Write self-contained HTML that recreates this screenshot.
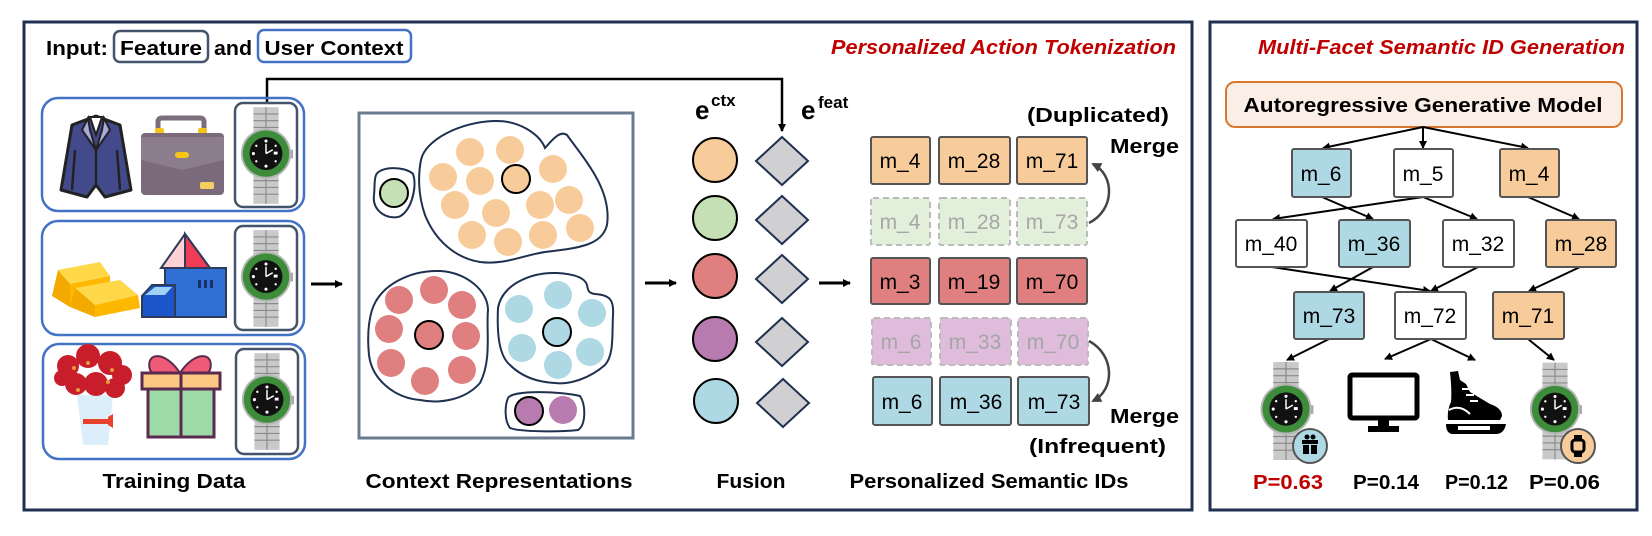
<!DOCTYPE html>
<html><head><meta charset="utf-8"><style>
html,body{margin:0;padding:0;background:#fff;}
svg{display:block;}
text{font-family:"Liberation Sans",sans-serif;}
</style></head><body>
<svg width="1652" height="536" viewBox="0 0 1652 536" xmlns="http://www.w3.org/2000/svg">
<defs>
<marker id="ah" markerWidth="8" markerHeight="8" refX="7" refY="4" orient="auto" markerUnits="userSpaceOnUse"><path d="M0,0 L8,4 L0,8 Z" fill="#000"/></marker>
<marker id="ah2" markerWidth="10" markerHeight="10" refX="8" refY="5" orient="auto" markerUnits="userSpaceOnUse"><path d="M0,0 L10,5 L0,10 Z" fill="#444"/></marker>
<symbol id="watch" viewBox="0 0 60 100">
  <rect x="17" y="0" width="26" height="100" fill="#c9c9c9"/>
  <g stroke="#8a8a8a" stroke-width="1.2">
    <line x1="17" y1="7" x2="43" y2="7"/><line x1="17" y1="14" x2="43" y2="14"/><line x1="17" y1="21" x2="43" y2="21"/>
    <line x1="17" y1="76" x2="43" y2="76"/><line x1="17" y1="83" x2="43" y2="83"/><line x1="17" y1="90" x2="43" y2="90"/>
    <line x1="30" y1="0" x2="30" y2="22"/><line x1="30" y1="74" x2="30" y2="100"/>
  </g>
  <rect x="52" y="44" width="6" height="9" fill="#aaa"/>
  <circle cx="30" cy="48" r="26" fill="#b5b5b5"/>
  <circle cx="30" cy="48" r="24" fill="#3d8c3a"/>
  <circle cx="30" cy="48" r="17" fill="#111"/>
  <g fill="#fff"><circle cx="30" cy="35" r="1.6"/><circle cx="30" cy="61" r="1.6"/><circle cx="17" cy="48" r="1.6"/><circle cx="40" cy="40" r="1.2"/><circle cx="20" cy="40" r="1.2"/><circle cx="20" cy="56" r="1.2"/><circle cx="40" cy="56" r="1.2"/><rect x="38" y="46" width="4" height="3"/></g>
  <path d="M30,48 L30,38 M30,48 L37,44" stroke="#fff" stroke-width="1.5"/>
</symbol>
</defs>

<!-- Panels -->
<rect x="24" y="22" width="1168" height="488" fill="none" stroke="#1f3050" stroke-width="3"/>
<rect x="1210" y="22" width="427" height="488" fill="none" stroke="#1f3050" stroke-width="3"/>

<!-- Input header -->
<text x="46" y="55" font-size="20" font-weight="bold" textLength="62" lengthAdjust="spacingAndGlyphs">Input:</text>
<rect x="114" y="31" width="94" height="31" rx="6" fill="none" stroke="#44546a" stroke-width="2.5"/>
<text x="161" y="55" font-size="20" font-weight="bold" text-anchor="middle" textLength="82" lengthAdjust="spacingAndGlyphs">Feature</text>
<text x="214" y="55" font-size="20" font-weight="bold" textLength="38" lengthAdjust="spacingAndGlyphs">and</text>
<rect x="258" y="30" width="153" height="32" rx="6" fill="none" stroke="#4472c4" stroke-width="2.5"/>
<text x="334" y="55" font-size="20" font-weight="bold" text-anchor="middle" textLength="139" lengthAdjust="spacingAndGlyphs">User Context</text>

<text x="831" y="54" font-size="20" font-weight="bold" font-style="italic" fill="#c00000" textLength="345" lengthAdjust="spacingAndGlyphs">Personalized Action Tokenization</text>
<text x="1258" y="54" font-size="20" font-weight="bold" font-style="italic" fill="#c00000" textLength="367" lengthAdjust="spacingAndGlyphs">Multi-Facet Semantic ID Generation</text>

<!-- connector -->
<path d="M267,103 L267,79 L782,79 L782,131" fill="none" stroke="#000" stroke-width="2.5" marker-end="url(#ah)"/>

<!-- Training rows -->
<rect x="42" y="98" width="262" height="113" rx="16" fill="none" stroke="#4472c4" stroke-width="2.5"/>
<rect x="42" y="221" width="262" height="114" rx="16" fill="none" stroke="#4472c4" stroke-width="2.5"/>
<rect x="43" y="344" width="262" height="115" rx="16" fill="none" stroke="#4472c4" stroke-width="2.5"/>
<rect x="235" y="103" width="62" height="104" rx="8" fill="#fff" stroke="#44546a" stroke-width="2.5"/>
<rect x="235" y="226" width="62" height="104" rx="8" fill="#fff" stroke="#44546a" stroke-width="2.5"/>
<rect x="236" y="349" width="62" height="105" rx="8" fill="#fff" stroke="#44546a" stroke-width="2.5"/>
<use href="#watch" x="237" y="106" width="58" height="99"/>
<use href="#watch" x="237" y="229" width="58" height="99"/>
<use href="#watch" x="238" y="352" width="58" height="99"/>

<!-- suit -->
<path d="M72,125 L96,116 L120,125 L131,190 L105,197 L96,185 L87,197 L61,190 Z" fill="#434a8c" stroke="#222" stroke-width="3" stroke-linejoin="round"/>
<path d="M90,117 L96,135 L102,117 Z" fill="#fff" stroke="#222" stroke-width="2"/>
<path d="M88,118 L82,130 L96,150 L90,130 Z M104,118 L110,130 L96,150 L102,130 Z" fill="#a7a9d8" stroke="#222" stroke-width="2"/>
<line x1="96" y1="150" x2="96" y2="185" stroke="#222" stroke-width="2.5"/>
<line x1="75" y1="150" x2="72" y2="190" stroke="#222" stroke-width="2.5"/>
<line x1="117" y1="150" x2="120" y2="190" stroke="#222" stroke-width="2.5"/>
<!-- briefcase -->
<path d="M158,135 L158,122 Q158,118 162,118 L200,118 Q204,118 204,122 L204,135" fill="none" stroke="#7d6e7d" stroke-width="5"/>
<rect x="155" y="128" width="9" height="6" rx="2" fill="#f5c518"/><rect x="198" y="128" width="9" height="6" rx="2" fill="#f5c518"/>
<rect x="141" y="133" width="83" height="62" rx="4" fill="#7a6a7b"/>
<path d="M141,137 L141,160 L182,170 L224,160 L224,137 Z" fill="#8c7d8d"/>
<rect x="175" y="152" width="14" height="6" rx="3" fill="#f5c518"/>
<rect x="200" y="182" width="14" height="7" rx="2" fill="#f5d060"/>

<!-- gold bars -->
<path d="M58,270 L100,262 L110,276 L70,284 Z" fill="#ffd84a"/>
<path d="M58,270 L70,284 L70,307 L52,296 Z" fill="#f2a900"/>
<path d="M70,284 L110,276 L110,300 L70,307 Z" fill="#ffb800"/>
<path d="M75,288 L120,280 L138,295 L95,305 Z" fill="#ffd84a"/>
<path d="M75,288 L95,305 L95,317 L70,307 Z" fill="#f2a900"/>
<path d="M95,305 L138,295 L140,308 L95,317 Z" fill="#ffb800"/>
<!-- building -->
<path d="M185,234 L161,268 L210,268 Z" fill="#ffd1d4" stroke="#2d3a5a" stroke-width="2"/>
<path d="M185,234 L210,268 L185,268 Z" fill="#ef3b56" stroke="#2d3a5a" stroke-width="2"/>
<rect x="165" y="268" width="61" height="49" fill="#2f6fd6" stroke="#2d3a5a" stroke-width="2"/>
<path d="M142,317 L142,296 L152,285 L175,285 L175,317 Z" fill="#1a55c9" stroke="#2d3a5a" stroke-width="2"/>
<path d="M145,295 L155,287 L172,287 L165,295 Z" fill="#9fd2f5"/>
<g fill="#1a2e6a"><rect x="198" y="280" width="3" height="8"/><rect x="204" y="280" width="3" height="8"/><rect x="210" y="280" width="3" height="8"/></g>

<!-- flowers -->
<path d="M77,395 L113,395 L108,445 L83,445 Z" fill="#dbeefa"/>
<rect x="83" y="419" width="27" height="5" fill="#e8412c"/><path d="M108,417 L113,414 L113,428 L108,425 Z" fill="#e8412c"/>
<g fill="#c81d2b">
<circle cx="68" cy="366" r="11"/><circle cx="88" cy="356" r="12"/><circle cx="110" cy="363" r="12"/><circle cx="122" cy="375" r="10"/><circle cx="76" cy="384" r="11"/><circle cx="96" cy="384" r="12"/><circle cx="115" cy="388" r="10"/><circle cx="62" cy="378" r="8"/>
</g>
<g fill="#e89a3a"><circle cx="74" cy="368" r="2"/><circle cx="88" cy="363" r="2"/><circle cx="112" cy="370" r="2"/><circle cx="78" cy="390" r="2"/><circle cx="108" cy="382" r="2"/></g>
<!-- gift -->
<path d="M180,373 C165,350 145,352 150,370 C155,378 170,378 180,373 Z" fill="#ee5a78" stroke="#5b2b4f" stroke-width="2"/>
<path d="M180,373 C195,350 215,352 210,370 C205,378 190,378 180,373 Z" fill="#ee5a78" stroke="#5b2b4f" stroke-width="2"/>
<rect x="142" y="373" width="78" height="16" fill="#fdc982" stroke="#5b2b4f" stroke-width="3"/>
<rect x="148" y="389" width="66" height="48" fill="#9ed9a8" stroke="#5b2b4f" stroke-width="3"/>
<line x1="181" y1="373" x2="181" y2="437" stroke="#5b2b4f" stroke-width="3"/>

<text x="174" y="488" font-size="20" font-weight="bold" text-anchor="middle" textLength="143" lengthAdjust="spacingAndGlyphs">Training Data</text>

<!-- arrows -->
<line x1="311" y1="284" x2="342" y2="284" stroke="#000" stroke-width="3" marker-end="url(#ah)"/>
<line x1="645" y1="283" x2="676" y2="283" stroke="#000" stroke-width="3" marker-end="url(#ah)"/>
<line x1="819" y1="283" x2="850" y2="283" stroke="#000" stroke-width="3" marker-end="url(#ah)"/>

<!-- Context rect -->
<rect x="359" y="113" width="274" height="325" fill="none" stroke="#6b7a8f" stroke-width="3"/>
<g fill="none" stroke="#1f3050" stroke-width="2">
<path d="M421,160 C425,140 460,122 494,121 C520,120 540,135 545,148 C552,140 560,130 567,135 C585,160 612,190 607,225 C602,245 580,248 545,252 C520,256 505,265 480,262 C455,258 435,240 425,215 C418,195 418,175 421,160 Z"/>
<path d="M376,175 C380,166 405,166 413,174 C418,188 410,214 398,217 C385,219 372,210 374,195 C375,185 374,180 376,175 Z"/>
<path d="M372,310 C380,285 410,270 440,271 C465,272 488,290 488,310 C486,330 492,360 480,383 C465,400 440,404 420,400 C395,398 372,380 369,355 C367,335 369,320 372,310 Z"/>
<path d="M498,308 C502,285 530,272 557,273 C575,274 585,278 587,285 C588,290 588,293 595,294 C610,295 614,300 613,315 C612,335 614,355 605,365 C590,378 570,385 555,383 C535,382 520,375 510,365 C498,355 497,330 498,308 Z"/>
<path d="M508,398 C512,390 560,391 580,396 C586,405 586,425 578,430 C560,432 520,432 510,428 C504,420 505,405 508,398 Z"/>
</g>
<g fill="#f8cc9a">
<circle cx="470" cy="152" r="14"/><circle cx="510" cy="150" r="14"/><circle cx="443" cy="177" r="14"/><circle cx="480" cy="181" r="14"/><circle cx="553" cy="169" r="14"/><circle cx="455" cy="205" r="14"/><circle cx="496" cy="213" r="14"/><circle cx="540" cy="205" r="14"/><circle cx="569" cy="200" r="14"/><circle cx="472" cy="235" r="14"/><circle cx="508" cy="242" r="14"/><circle cx="543" cy="235" r="14"/><circle cx="580" cy="228" r="14"/>
</g>
<circle cx="516" cy="179" r="14" fill="#f8cc9a" stroke="#000" stroke-width="2"/>
<circle cx="394" cy="193" r="14" fill="#c5e0b4" stroke="#000" stroke-width="2"/>
<g fill="#e07f7f">
<circle cx="399" cy="300" r="14"/><circle cx="434" cy="290" r="14"/><circle cx="462" cy="305" r="14"/><circle cx="389" cy="329" r="14"/><circle cx="466" cy="336" r="14"/><circle cx="391" cy="363" r="14"/><circle cx="425" cy="381" r="14"/><circle cx="462" cy="370" r="14"/>
</g>
<circle cx="429" cy="335" r="14" fill="#e07f7f" stroke="#000" stroke-width="2"/>
<g fill="#add8e4">
<circle cx="519" cy="309" r="14"/><circle cx="558" cy="295" r="14"/><circle cx="592" cy="313" r="14"/><circle cx="522" cy="348" r="14"/><circle cx="558" cy="365" r="14"/><circle cx="590" cy="352" r="14"/>
</g>
<circle cx="557" cy="332" r="14" fill="#add8e4" stroke="#000" stroke-width="2"/>
<circle cx="529" cy="411" r="14" fill="#b87bb0" stroke="#000" stroke-width="2"/>
<circle cx="563" cy="410" r="14" fill="#b87bb0"/>
<text x="499" y="488" font-size="20" font-weight="bold" text-anchor="middle" textLength="267" lengthAdjust="spacingAndGlyphs">Context Representations</text>

<!-- Fusion -->
<text x="695" y="119" font-size="26" font-weight="bold">e</text><text x="711" y="106" font-size="17" font-weight="bold">ctx</text>
<text x="801" y="119" font-size="26" font-weight="bold">e</text><text x="818" y="108" font-size="17" font-weight="bold">feat</text>
<g stroke="#000" stroke-width="2">
<circle cx="715" cy="160" r="22" fill="#f8cc9a"/><circle cx="715" cy="218" r="22" fill="#c5e0b4"/><circle cx="715" cy="276" r="22" fill="#e07f7f"/><circle cx="715" cy="339" r="22" fill="#b87bb0"/><circle cx="716" cy="401" r="22" fill="#add8e4"/>
</g>
<g fill="#d0cfd2" stroke="#1f3050" stroke-width="2">
<path d="M782,137 L808,161 L782,185 L756,161 Z"/><path d="M782,196 L808,220 L782,244 L756,220 Z"/><path d="M782,255 L808,279 L782,303 L756,279 Z"/><path d="M782,318 L808,342 L782,366 L756,342 Z"/><path d="M783,379 L809,403 L783,427 L757,403 Z"/>
</g>
<text x="751" y="488" font-size="20" font-weight="bold" text-anchor="middle" textLength="69" lengthAdjust="spacingAndGlyphs">Fusion</text>

<!-- Semantic ID boxes -->
<g font-size="21" text-anchor="middle">
<g stroke="#555" stroke-width="2" fill="#f8cc9a"><rect x="871" y="137" width="59" height="47" rx="2"/><rect x="939" y="137" width="71" height="47" rx="2"/><rect x="1017" y="137" width="70" height="47" rx="2"/></g>
<text x="900" y="168">m_4</text><text x="974" y="168">m_28</text><text x="1052" y="168">m_71</text>
<g stroke="#bbb" stroke-width="2" stroke-dasharray="6,4" fill="#e2efda"><rect x="871" y="198" width="59" height="47" rx="2"/><rect x="939" y="198" width="71" height="47" rx="2"/><rect x="1017" y="198" width="70" height="47" rx="2"/></g>
<g fill="#a6a6a6"><text x="900" y="229">m_4</text><text x="974" y="229">m_28</text><text x="1052" y="229">m_73</text></g>
<g stroke="#555" stroke-width="2" fill="#e07f7f"><rect x="871" y="258" width="59" height="46" rx="2"/><rect x="939" y="258" width="71" height="46" rx="2"/><rect x="1017" y="258" width="70" height="46" rx="2"/></g>
<text x="900" y="289">m_3</text><text x="974" y="289">m_19</text><text x="1052" y="289">m_70</text>
<g stroke="#bbb" stroke-width="2" stroke-dasharray="6,4" fill="#dfbcdc"><rect x="872" y="318" width="59" height="47" rx="2"/><rect x="940" y="318" width="71" height="47" rx="2"/><rect x="1018" y="318" width="70" height="47" rx="2"/></g>
<g fill="#a6a6a6"><text x="901" y="349">m_6</text><text x="975" y="349">m_33</text><text x="1053" y="349">m_70</text></g>
<g stroke="#555" stroke-width="2" fill="#add8e4"><rect x="873" y="377" width="59" height="48" rx="2"/><rect x="940" y="377" width="71" height="48" rx="2"/><rect x="1018" y="377" width="71" height="48" rx="2"/></g>
<text x="902" y="409">m_6</text><text x="976" y="409">m_36</text><text x="1054" y="409">m_73</text>
</g>
<path d="M1089,223 C1115,210 1115,175 1093,164" fill="none" stroke="#444" stroke-width="2.5" marker-end="url(#ah2)"/>
<path d="M1089,341 C1115,355 1115,390 1093,401" fill="none" stroke="#444" stroke-width="2.5" marker-end="url(#ah2)"/>
<text x="1027" y="122" font-size="20" font-weight="bold" textLength="142" lengthAdjust="spacingAndGlyphs">(Duplicated)</text>
<text x="1110" y="153" font-size="20" font-weight="bold" textLength="69" lengthAdjust="spacingAndGlyphs">Merge</text>
<text x="1110" y="423" font-size="20" font-weight="bold" textLength="69" lengthAdjust="spacingAndGlyphs">Merge</text>
<text x="1029" y="453" font-size="20" font-weight="bold" textLength="137" lengthAdjust="spacingAndGlyphs">(Infrequent)</text>
<text x="989" y="488" font-size="20" font-weight="bold" text-anchor="middle" textLength="279" lengthAdjust="spacingAndGlyphs">Personalized Semantic IDs</text>

<!-- Right panel -->
<rect x="1226" y="82" width="396" height="45" rx="9" fill="#fbeee6" stroke="#d9772f" stroke-width="2"/>
<text x="1423" y="112" font-size="20" font-weight="bold" text-anchor="middle" textLength="359" lengthAdjust="spacingAndGlyphs">Autoregressive Generative Model</text>
<g stroke="#000" stroke-width="2" marker-end="url(#ah)">
<line x1="1423" y1="127" x2="1323" y2="148"/><line x1="1423" y1="127" x2="1423" y2="148"/><line x1="1423" y1="127" x2="1528" y2="148"/>
<line x1="1322" y1="197" x2="1373" y2="219"/><line x1="1423" y1="197" x2="1273" y2="219"/><line x1="1423" y1="197" x2="1477" y2="219"/><line x1="1528" y1="197" x2="1579" y2="219"/>
<line x1="1272" y1="267" x2="1430" y2="291"/><line x1="1373" y1="267" x2="1330" y2="291"/><line x1="1478" y1="267" x2="1431" y2="291"/><line x1="1580" y1="267" x2="1529" y2="291"/>
<line x1="1329" y1="339" x2="1287" y2="360"/><line x1="1431" y1="339" x2="1385" y2="359"/><line x1="1431" y1="339" x2="1475" y2="360"/><line x1="1528" y1="339" x2="1554" y2="360"/>
</g>
<g font-size="21" text-anchor="middle" stroke-width="2">
<rect x="1292" y="149" width="59" height="48" rx="2" fill="#add8e4" stroke="#555"/><text x="1321" y="181">m_6</text>
<rect x="1394" y="149" width="59" height="48" rx="2" fill="#fff" stroke="#555"/><text x="1423" y="181">m_5</text>
<rect x="1500" y="149" width="59" height="48" rx="2" fill="#f8cc9a" stroke="#555"/><text x="1529" y="181">m_4</text>
<rect x="1236" y="220" width="71" height="47" rx="2" fill="#fff" stroke="#555"/><text x="1271" y="251">m_40</text>
<rect x="1339" y="220" width="71" height="47" rx="2" fill="#add8e4" stroke="#555"/><text x="1374" y="251">m_36</text>
<rect x="1443" y="220" width="71" height="47" rx="2" fill="#fff" stroke="#555"/><text x="1478" y="251">m_32</text>
<rect x="1546" y="220" width="70" height="47" rx="2" fill="#f8cc9a" stroke="#555"/><text x="1581" y="251">m_28</text>
<rect x="1294" y="292" width="70" height="47" rx="2" fill="#add8e4" stroke="#555"/><text x="1329" y="323">m_73</text>
<rect x="1395" y="292" width="71" height="47" rx="2" fill="#fff" stroke="#555"/><text x="1430" y="323">m_72</text>
<rect x="1493" y="292" width="71" height="47" rx="2" fill="#f8cc9a" stroke="#555"/><text x="1528" y="323">m_71</text>
</g>
<!-- items -->
<use href="#watch" x="1256" y="362" width="60" height="98"/>
<circle cx="1310" cy="446" r="17" fill="#add8e4" stroke="#555" stroke-width="2"/>
<g fill="#000"><rect x="1302" y="440" width="16" height="4"/><rect x="1303" y="445" width="6" height="9"/><rect x="1311" y="445" width="6" height="9"/><circle cx="1307" cy="437" r="2.5"/><circle cx="1313" cy="437" r="2.5"/></g>
<use href="#watch" x="1526" y="362" width="58" height="98"/>
<circle cx="1578" cy="446" r="17" fill="#f8cc9a" stroke="#555" stroke-width="2"/>
<rect x="1572" y="440" width="12" height="12" rx="3" fill="none" stroke="#000" stroke-width="3"/><rect x="1574" y="435" width="8" height="4" fill="#000"/><rect x="1574" y="453" width="8" height="4" fill="#000"/>
<rect x="1350" y="375" width="67" height="43" rx="2" fill="#fff" stroke="#000" stroke-width="5"/>
<rect x="1378" y="420" width="11" height="7" fill="#000"/><rect x="1368" y="426" width="31" height="6" fill="#000"/>
<path d="M1450,372 L1458,371 L1460,380 L1466,384 L1470,392 L1490,404 Q1502,408 1502,416 L1500,420 L1448,420 Q1447,410 1451,402 Q1452,390 1450,372 Z" fill="#000"/>
<g stroke="#fff" stroke-width="2"><line x1="1462" y1="389" x2="1470" y2="389"/><line x1="1466" y1="395" x2="1474" y2="395"/><line x1="1470" y1="401" x2="1478" y2="401"/><path d="M1449,410 Q1460,404 1470,414" fill="none"/></g>
<path d="M1446,424 L1506,424 Q1504,434 1496,434 L1452,434 Q1446,433 1446,424 Z" fill="#000"/>
<rect x="1458" y="426" width="32" height="4" fill="#fff"/>
<g font-size="20" font-weight="bold">
<text x="1253" y="489" fill="#c00000" textLength="70" lengthAdjust="spacingAndGlyphs">P=0.63</text>
<text x="1353" y="489" textLength="66" lengthAdjust="spacingAndGlyphs">P=0.14</text>
<text x="1445" y="489" textLength="63" lengthAdjust="spacingAndGlyphs">P=0.12</text>
<text x="1529" y="489" textLength="71" lengthAdjust="spacingAndGlyphs">P=0.06</text>
</g>
</svg>
</body></html>
